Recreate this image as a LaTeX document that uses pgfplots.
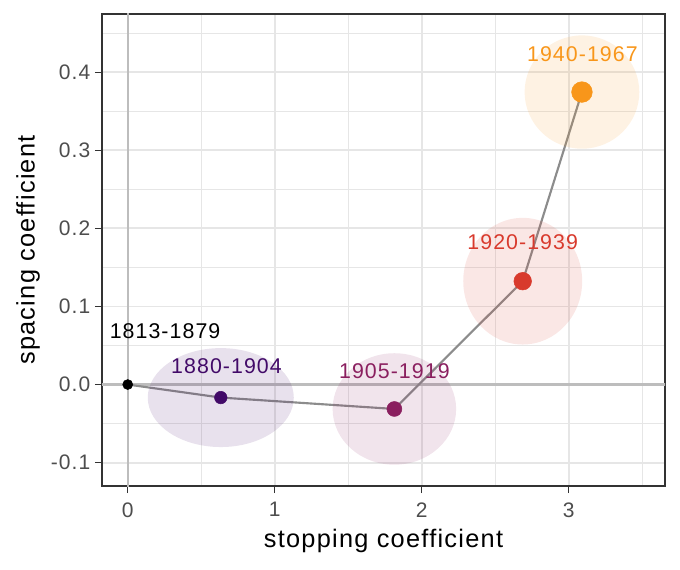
\documentclass[border=0pt]{standalone}
\usepackage{fontspec}
\setmainfont{Liberation Sans}[LetterSpace=5]
\usepackage{pgfplots}
\pgfplotsset{compat=1.18}
\definecolor{cA}{HTML}{000000}
\definecolor{cB}{HTML}{420A68}
\definecolor{cC}{HTML}{8A1F5F}
\definecolor{cD}{HTML}{D83A2D}
\definecolor{cE}{HTML}{F8961A}
\definecolor{gridc}{HTML}{E6E6E6}
\definecolor{framec}{HTML}{333333}
\definecolor{tickc}{HTML}{4D4D4D}
\definecolor{zeroc}{HTML}{BDBDBD}
\definecolor{linec}{HTML}{8C8C8C}
\begin{document}
\begin{tikzpicture}[x=1pt,y=1pt]
\path[use as bounding box] (0,0) rectangle (510,426.75);
\begin{axis}[
  at={(76.5pt,62.25pt)}, anchor=south west,
  scale only axis, width=422.25pt, height=354pt,
  xmin=-0.175, xmax=3.655, ymin=-0.130, ymax=0.4747,
  xtick={0,1,2,3}, ytick={-0.1,0,0.1,0.2,0.3,0.4},
  minor xtick={-0.5,0.5,1.5,2.5,3.5},
  minor ytick={-0.15,-0.05,0.05,0.15,0.25,0.35,0.45},
  grid=both,
  major grid style={color=gridc, line width=1.4pt},
  minor grid style={color=gridc, line width=0.8pt},
  axis line style={color=framec, line width=0.9pt},
  tick pos=left, tick align=outside,
  major tick length=5.25pt, minor tick length=0pt,
  major tick style={color=framec, line width=1.1pt},
  /pgf/number format/assume math mode=true,
  yticklabel style={/pgf/number format/fixed, /pgf/number format/fixed zerofill, /pgf/number format/precision=1},
  xticklabel style={yshift=-3.5pt},
  tick label style={font=\fontsize{15.75}{18}\selectfont, color=tickc},
  xlabel={stopping coefficient}, ylabel={spacing coefficient},
  label style={font=\fontsize{19}{22}\selectfont, color=black},
  xlabel style={at={(axis description cs:0.5,-0.116)}, anchor=center},
  ylabel style={at={(axis description cs:-0.1314,0.5)}, anchor=center},
  clip=true,
]
\addplot[color=zeroc, line width=1.6pt] coordinates {(0,-0.2) (0,0.6)};
\addplot[color=zeroc, line width=1.6pt] coordinates {(-0.5,0) (4,0)};
% uncertainty ellipses
\addplot[only marks, mark=*, mark size=37.1pt, mark options={xscale=1.476, draw opacity=0, line width=0pt, fill=cB, fill opacity=0.12}] coordinates {(0.633,-0.0167)};
\addplot[only marks, mark=*, mark size=41.8pt, mark options={xscale=1.108, draw opacity=0, line width=0pt, fill=cC, fill opacity=0.12}] coordinates {(1.814,-0.0313)};
\addplot[only marks, mark=*, mark size=47.5pt, mark options={xscale=0.939, draw opacity=0, line width=0pt, fill=cD, fill opacity=0.12}] coordinates {(2.687,0.1324)};
\addplot[only marks, mark=*, mark size=42.5pt, mark options={xscale=1.012, draw opacity=0, line width=0pt, fill=cE, fill opacity=0.12}] coordinates {(3.09,0.3747)};
% path
\addplot[color=linec, line width=1.6pt] coordinates {(0,0) (0.633,-0.0167) (1.814,-0.0313) (2.687,0.1324) (3.09,0.3747)};
% points
\addplot[only marks, mark=*, mark size=3.75pt, color=cA] coordinates {(0,0)};
\addplot[only marks, mark=*, mark size=4.7pt, color=cB] coordinates {(0.633,-0.0167)};
\addplot[only marks, mark=*, mark size=5.6pt, color=cC] coordinates {(1.814,-0.0313)};
\addplot[only marks, mark=*, mark size=6.6pt, color=cD] coordinates {(2.687,0.1324)};
\addplot[only marks, mark=*, mark size=7.75pt, color=cE] coordinates {(3.09,0.3747)};
% labels
\node[font=\fontsize{16}{19}\selectfont, text=cA, inner sep=0pt] at (axis cs:0.254,0.0681) {1813-1879};
\node[font=\fontsize{16}{19}\selectfont, text=cB, inner sep=0pt] at (axis cs:0.672,0.0231) {1880-1904};
\node[font=\fontsize{16}{19}\selectfont, text=cC, inner sep=0pt] at (axis cs:1.814,0.0174) {1905-1919};
\node[font=\fontsize{16}{19}\selectfont, text=cD, inner sep=0pt] at (axis cs:2.687,0.1818) {1920-1939};
\node[font=\fontsize{16}{19}\selectfont, text=cE, inner sep=0pt] at (axis cs:3.093,0.4238) {1940-1967};
\end{axis}
\end{tikzpicture}
\end{document}
